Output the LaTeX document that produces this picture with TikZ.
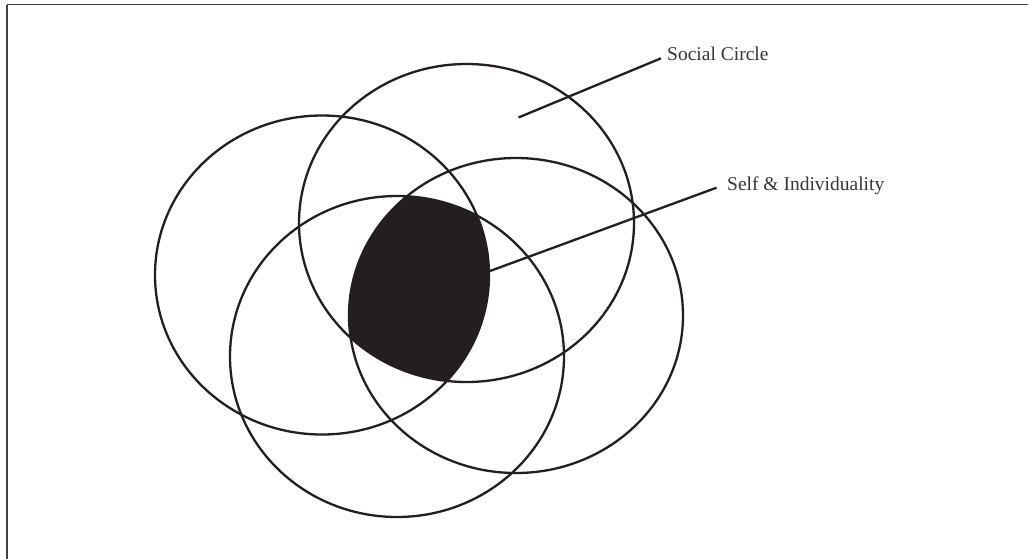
\documentclass[tikz,border=0pt]{standalone}
\usepackage{fontspec}
\setmainfont{Liberation Serif}
\definecolor{ink}{HTML}{231F20}
\begin{document}
\begin{tikzpicture}[x=1pt,y=-1pt,
  ring/.style={draw=ink,line width=2.3pt},
  leader/.style={draw=ink,line width=2.3pt},
  frameline/.style={draw=ink!85,line width=1.4pt},
  lbl/.style={font=\fontsize{19.5}{22}\selectfont,text=ink!90,inner sep=0pt,anchor=base west}]
\useasboundingbox (0,0) rectangle (1028,558);
\fill[white] (0,0) rectangle (1028,558);
% frame (right and bottom sides lie outside the picture)
\draw[frameline] (7,4.5) -- (1030,4.5);
\draw[frameline] (7,4.5) -- (7,560);
% filled intersection of all four circles
\begin{scope}
  \clip (322,275) ellipse [x radius=167pt, y radius=159.5pt];
  \clip (466.5,223) ellipse [x radius=167.5pt, y radius=159pt];
  \clip (397,356.5) ellipse [x radius=167pt, y radius=160.5pt];
  \fill[ink] (516,315.5) ellipse [x radius=167pt, y radius=157.5pt];
\end{scope}
% circles
\draw[ring] (322,275) ellipse [x radius=167pt, y radius=159.5pt];
\draw[ring] (466.5,223) ellipse [x radius=167.5pt, y radius=159pt];
\draw[ring] (397,356.5) ellipse [x radius=167pt, y radius=160.5pt];
\draw[ring] (516,315.5) ellipse [x radius=167pt, y radius=157.5pt];
% labels
\node[lbl] (social) at (667,60.7) {Social Circle};
\node[lbl] (self) at (727,190) {Self \& Individuality};
\coordinate (socialA) at (518.5,117.5);
\coordinate (socialB) at (661,58.3);
\coordinate (selfA) at (490,271);
\coordinate (selfB) at (716.5,187.7);
\draw[leader] (socialA) -- (socialB);
\draw[leader] (selfA) -- (selfB);
\end{tikzpicture}
\end{document}
